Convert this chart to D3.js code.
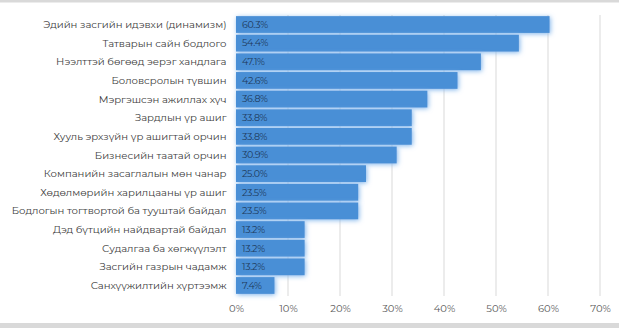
<!DOCTYPE html>
<html><head><meta charset="utf-8">
<script src="https://cdn.jsdelivr.net/npm/d3@7"></script>
<style>
html,body{margin:0;padding:0;background:#fff;}
svg{display:block;font-family:Montserrat,"Open Sans","Noto Sans",sans-serif;}
</style></head>
<body>
<svg id="chart" width="619" height="328"></svg>
<script>
const categories = [
  "Эдийн засгийн идэвхи (динамизм)",
  "Татварын сайн бодлого",
  "Нээлттэй бөгөөд эерэг хандлага",
  "Боловсролын түвшин",
  "Мэргэшсэн ажиллах хүч",
  "Зардлын үр ашиг",
  "Хууль эрхзүйн үр ашигтай орчин",
  "Бизнесийн таатай орчин",
  "Компанийн засаглалын мөн чанар",
  "Хөдөлмөрийн харилцааны үр ашиг",
  "Бодлогын тогтвортой ба тууштай байдал",
  "Дэд бүтцийн найдвартай байдал",
  "Судалгаа ба хөгжүүлэлт",
  "Засгийн газрын чадамж",
  "Санхүүжилтийн хүртээмж"
];
const values = [60.3, 54.4, 47.1, 42.6, 36.8, 33.8, 33.8, 30.9, 25.0, 23.5, 23.5, 13.2, 13.2, 13.2, 7.4];
const ticks = [0, 10, 20, 30, 40, 50, 60, 70];

const svg = d3.select("#chart");
const W = 619, H = 328;

svg.append("rect").attr("x",0).attr("y",0).attr("width",W).attr("height",2.5).attr("fill","#d9d9d9");
svg.append("rect").attr("x",0).attr("y",323).attr("width",W).attr("height",5).attr("fill","#d9d9d9");

const x = d3.scaleLinear().domain([0,70]).range([236,600]);
const y = d3.scaleBand().domain(categories).range([15.2,294.8]).paddingInner(0.1).paddingOuter(0.05);

const defs = svg.append("defs");
const f = defs.append("filter").attr("id","glow").attr("x","-20%").attr("y","-80%").attr("width","140%").attr("height","260%");
f.append("feGaussianBlur").attr("in","SourceAlpha").attr("stdDeviation",2.6).attr("result","b");
f.append("feFlood").attr("flood-color","#7fb4ec").attr("flood-opacity",1);
f.append("feComposite").attr("in2","b").attr("operator","in").attr("result","g");
f.append("feOffset").attr("in","g").attr("dx",1.2).attr("dy",1.2).attr("result","go");
const m = f.append("feMerge");
m.append("feMergeNode").attr("in","go");
m.append("feMergeNode").attr("in","SourceGraphic");

svg.append("g").selectAll("line").data(ticks.slice(1)).join("line")
  .attr("x1",d=>x(d)).attr("x2",d=>x(d))
  .attr("y1",15).attr("y2",296)
  .attr("stroke","#d9d9d9").attr("stroke-width",1);

svg.append("g").selectAll("rect").data(values).join("rect")
  .attr("x",x(0))
  .attr("y",(d,i)=>y(categories[i]))
  .attr("width",d=>x(d)-x(0))
  .attr("height",y.bandwidth())
  .attr("fill","#4a8fd6")
  .attr("filter","url(#glow)");

svg.append("g").selectAll("text").data(values).join("text")
  .attr("x",x(0)+6)
  .attr("y",(d,i)=>y(categories[i])+y.bandwidth()/2)
  .attr("dy","0.35em")
  .attr("font-size",9.5)
  .attr("fill","#1e3a5c")
  .attr("letter-spacing","-0.3")
  .text(d=>d.toFixed(1)+"%");

svg.append("g").selectAll("text").data(categories).join("text")
  .attr("x",226.5)
  .attr("y",d=>y(d)+y.bandwidth()/2)
  .attr("dy","0.35em")
  .attr("text-anchor","end")
  .attr("font-size",10.1)
  .attr("fill","#404040")
  .text(d=>d);

const ax = svg.append("g").attr("transform","translate(0,297)")
  .call(d3.axisBottom(x).tickValues(ticks).tickFormat(d=>d+"%").tickSize(0).tickPadding(8));
ax.select(".domain").remove();
ax.selectAll("text").attr("font-size",10).attr("fill","#595959").attr("font-family","Montserrat,'Open Sans','Noto Sans',sans-serif");
</script>
</body></html>
